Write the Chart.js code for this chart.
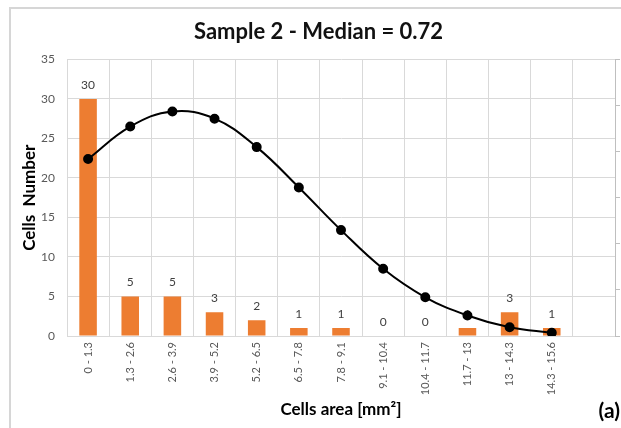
<!DOCTYPE html>
<html>
<head>
<meta charset="utf-8">
<script src="https://cdn.jsdelivr.net/npm/chart.js@4.4.0/dist/chart.umd.min.js"></script>
<style>
  html, body { margin: 0; padding: 0; background: #fff; overflow: hidden; }
  #wrap { position: relative; width: 621px; height: 428px; }
  #frame { position: absolute; left: 9px; top: 7px; width: 700px; height: 500px;
           border-left: 2px solid #d6d6d6; border-top: 2px solid #d6d6d6; }
  canvas { position: absolute; left: 0; top: 0; }
</style>
</head>
<body>
<div id="wrap">
  <div id="frame"></div>
  <canvas id="myChart" width="621" height="428"></canvas>
</div>
<script>
// cell area bins (last one is the empty slot at the right)
const categories = ['0 - 1.3', '1.3 - 2.6', '2.6 - 3.9', '3.9 - 5.2', '5.2 - 6.5', '6.5 - 7.8',
  '7.8 - 9.1', '9.1 - 10.4', '10.4 - 11.7', '11.7 - 13', '13 - 14.3', '14.3 - 15.6', ''];
const counts = [30, 5, 5, 3, 2, 1, 1, 0, 0, 1, 3, 1];
const fitValues = [22.4, 26.5, 28.4, 27.5, 23.9, 18.8, 13.4, 8.5, 4.9, 2.6, 1.1, 0.4];
const yTicks = [0, 5, 10, 15, 20, 25, 30, 35];

const gridColor = '#d9d9d9';
const textGray = '#595959';
const fontName = 'Lato, "Open Sans", sans-serif';

// numbers above the bars
const barLabels = {
  id: 'barLabels',
  afterDatasetDraw(chart, args) {
    if (args.index !== 0) return;
    const ctx = chart.ctx;
    ctx.save();
    ctx.font = '12px ' + fontName;
    ctx.fillStyle = '#404040';
    ctx.textAlign = 'center';
    ctx.textBaseline = 'middle';
    args.meta.data.forEach((bar, i) => {
      if (counts[i] === undefined) return;
      ctx.fillText(String(counts[i]), bar.x, bar.y - 14);
    });
    ctx.restore();
  },
  afterDraw(chart) {
    const ctx = chart.ctx;
    ctx.save();
    ctx.font = 'bold 21px ' + fontName;
    ctx.fillStyle = '#000';
    ctx.textAlign = 'right';
    ctx.textBaseline = 'middle';
    ctx.fillText('(a)', 620, 411);
    ctx.restore();
  }
};

const myChart = new Chart(document.getElementById('myChart'), {
  type: 'bar',
  data: {
    labels: categories,
    datasets: [{
      label: 'Cells',
      data: counts,
      backgroundColor: '#ED7D31',
      categoryPercentage: 1,
      barPercentage: 0.416,
      order: 1
    }, {
      type: 'line',
      label: 'Fit',
      data: fitValues,
      yAxisID: 'y2',
      borderColor: '#000',
      borderWidth: 2,
      backgroundColor: '#000',
      pointRadius: 4,
      pointBackgroundColor: '#000',
      tension: 0.4,
      order: 0
    }]
  },
  options: {
    responsive: false,
    animation: false,
    layout: { padding: { left: 16, right: 0, top: 0, bottom: 4 } },
    plugins: {
      legend: { display: false },
      tooltip: { enabled: false },
      title: {
        display: true,
        text: 'Sample 2 - Median = 0.72',
        color: '#111',
        font: { family: fontName, size: 22, weight: 'bold' },
        padding: { top: 19, bottom: 14 }
      }
    },
    scales: {
      x: {
        grid: { color: gridColor, offset: true, drawTicks: false },
        border: { color: gridColor },
        ticks: {
          color: textGray, font: { family: fontName, size: 11 },
          minRotation: 90, maxRotation: 90, padding: 6, autoSkip: false
        },
        title: {
          display: true, text: 'Cells area [mm²]', color: '#000',
          font: { family: fontName, size: 17, weight: 'bold' },
          padding: { top: 4, bottom: 4 }
        },
        afterFit(scale) { scale.height = 88; }
      },
      y: {
        min: 0, max: 35,
        afterBuildTicks(scale) { scale.ticks = yTicks.map(v => ({ value: v })); },
        grid: { color: gridColor, drawTicks: false },
        border: { color: gridColor },
        ticks: { color: textGray, font: { family: fontName, size: 12 }, padding: 12 },
        title: {
          display: true, text: 'Cells  Number', color: '#000',
          font: { family: fontName, size: 17, weight: 'bold' },
          padding: { top: 3, bottom: 4 }
        },
        afterFit(scale) { scale.width = 51; }
      },
      y2: {
        position: 'right',
        min: 0, max: 35,
        ticks: { display: false, count: 7 },
        grid: { drawOnChartArea: false, drawTicks: true, tickLength: 5, color: '#bfbfbf' },
        border: { color: '#bfbfbf' }
      }
    }
  },
  plugins: [barLabels]
});
</script>
</body>
</html>
